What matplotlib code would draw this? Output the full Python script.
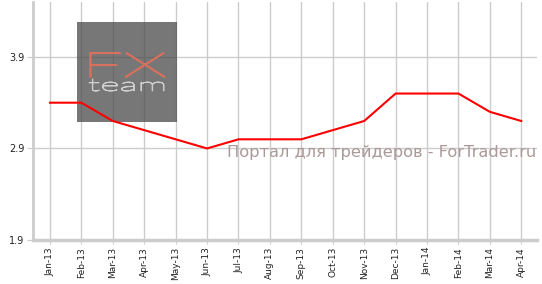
import matplotlib
matplotlib.use("Agg")
import matplotlib.pyplot as plt
from matplotlib.patches import Rectangle, PathPatch
from matplotlib.textpath import TextPath
from matplotlib.font_manager import FontProperties
from matplotlib.transforms import Affine2D, IdentityTransform

months = ["Jan-13", "Feb-13", "Mar-13", "Apr-13", "May-13", "Jun-13", "Jul-13", "Aug-13",
          "Sep-13", "Oct-13", "Nov-13", "Dec-13", "Jan-14", "Feb-14", "Mar-14", "Apr-14"]
values = [3.4, 3.4, 3.2, 3.1, 3.0, 2.9, 3.0, 3.0, 3.0, 3.1, 3.2, 3.5, 3.5, 3.5, 3.3, 3.2]
y_ticks = [1.9, 2.9, 3.9]
watermark = "Портал для трейдеров - ForTrader.ru"

W, H = 542, 284
fig = plt.figure(figsize=(W / 100, H / 100), dpi=100)
ax = fig.add_axes([33 / W, 1 - 240 / H, (537 - 33) / W, (240 - 2) / H])

x = list(range(len(months)))
ax.set_xlim(-0.54, len(months) - 0.5)
ax.set_ylim(1.9, 4.5)

ax.set_xticks(x)
ax.set_xticklabels(months, rotation=90, fontsize=6.5, color="#222222")
ax.set_yticks(y_ticks)
ax.set_yticklabels([f"{v:.1f}" for v in y_ticks], fontsize=7, color="#222222")
ax.tick_params(axis="x", length=3, color="#cccccc", pad=2)
ax.tick_params(axis="y", length=4, color="#cccccc", pad=2)

ax.grid(True, color="#cccccc", linewidth=1)
ax.set_axisbelow(True)
for s in ["top", "right"]:
    ax.spines[s].set_visible(False)
ax.spines["left"].set_color("#cccccc")
ax.spines["left"].set_linewidth(2)
ax.spines["bottom"].set_color("#cccccc")
ax.spines["bottom"].set_linewidth(2.5)

# logo box (inside axes so the line draws over it)
box = Rectangle((77 / W, 1 - 122 / H), 100 / W, 100 / H, transform=fig.transFigure,
                facecolor="#4a4a4a", alpha=0.75, zorder=3, clip_on=False)
ax.add_artist(box)


def logo_text(s, x0, y0, x1, y1, color, weight, lw):
    tp = TextPath((0, 0), s, size=10, prop=FontProperties(family="Lato", weight=weight))
    ext = tp.get_extents()
    sx = (x1 - x0) / ext.width
    sy = (y1 - y0) / ext.height
    tr = (Affine2D().translate(-ext.x0, -ext.y0).scale(sx, sy)
          .translate(x0, H - y1))
    p = PathPatch(tr.transform_path(tp), facecolor=color, edgecolor=color, linewidth=lw,
                  transform=IdentityTransform(), zorder=4, clip_on=False)
    ax.add_artist(p)


logo_text("FX", 90, 53, 165, 77, "#d8705e", "light", 1.1)
logo_text("team", 89, 79, 164, 91, "#d0d0d0", "light", 0.7)

ax.plot(x, values, color="#ff0000", linewidth=1.5, zorder=5)

fig.text(536 / W, 1 - 152 / H, watermark, fontsize=11.7, color="#ab9999", ha="right",
         va="center", zorder=6)

fig.savefig("out.png", dpi=100)
